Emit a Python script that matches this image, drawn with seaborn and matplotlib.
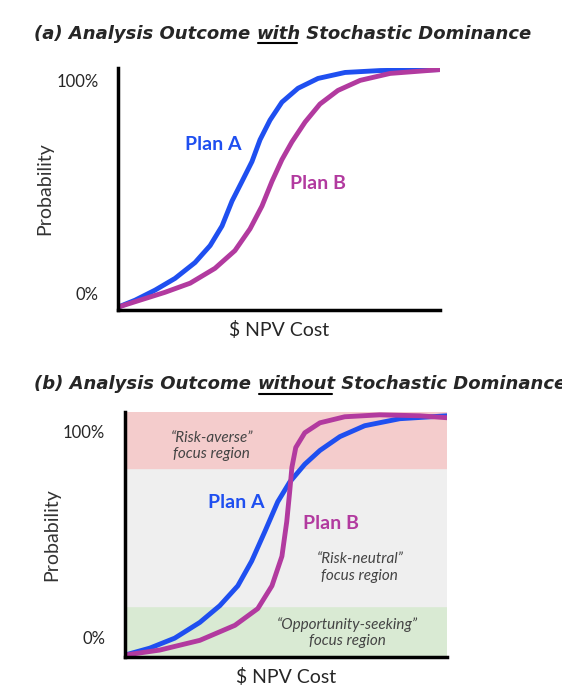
import pandas as pd
import matplotlib.pyplot as plt
import seaborn as sns
from matplotlib.lines import Line2D

# panel (a) curves, x and y in % of axis
a_plan_a_x = [0, 5.3, 11.5, 17.7, 23.9, 28.6, 32.3, 35.4, 38.5, 41.6, 44.1, 47.2, 50.9, 55.9, 62.1, 70.5, 81.4, 100]
a_plan_a_y = [1.2, 4.1, 8.3, 13.2, 19.8, 26.9, 35.1, 45.5, 53.7, 62, 71.1, 79.3, 86.8, 92.6, 96.7, 99.2, 100, 100.4]
a_plan_b_x = [0, 6.8, 14.6, 22.4, 30.1, 36.3, 41, 44.7, 47.8, 50.9, 54, 58.1, 62.7, 68.3, 75.2, 84.5, 100]
a_plan_b_y = [1.2, 4.1, 7.4, 11.2, 17.4, 24.8, 33.9, 43.4, 53.7, 62.8, 70.2, 78.5, 86, 91.7, 95.9, 98.8, 100.4]

# panel (b) curves
b_plan_a_x = [0, 7.8, 15.5, 23.3, 29.5, 35.1, 39.4, 43.5, 47.5, 51.2, 55.9, 60.6, 66.8, 74.5, 85.4, 100]
b_plan_a_y = [0.8, 3.7, 7.8, 14.3, 21.2, 29.4, 39.6, 51.8, 64.1, 72.2, 79.6, 85.3, 91, 95.5, 98.4, 99.6]
b_plan_b_x = [0, 10.9, 23.3, 34.2, 41.3, 45.7, 48.8, 50.3, 51.2, 51.9, 53.1, 55.9, 60.6, 68.3, 79.2, 91.6, 100]
b_plan_b_y = [0.8, 2.9, 6.9, 13.1, 20, 29.4, 41.6, 55.9, 68.1, 78.3, 86.5, 92.6, 96.7, 99.2, 100, 99.6, 98.8]

tick_labels = ["0%", "100%"]
blue = "#1f4ff0"
purple = "#b23a9f"

sns.set_style("white")
plt.rcParams["font.family"] = ["Lato", "DejaVu Sans"]

fig = plt.figure(figsize=(5.62, 6.99), dpi=100)
ax1 = fig.add_axes([0.21, 0.5565, 0.573, 0.346])
ax2 = fig.add_axes([0.222, 0.06, 0.573, 0.35])


def draw(ax, ax_x, ax_y, bx, by, ticks):
    df = pd.concat([
        pd.DataFrame({"x": ax_x, "y": ax_y, "plan": "Plan A"}),
        pd.DataFrame({"x": bx, "y": by, "plan": "Plan B"}),
    ])
    sns.lineplot(data=df, x="x", y="y", hue="plan", palette=[blue, purple],
                 linewidth=3.5, legend=False, ax=ax, zorder=3)
    ax.set_xlim(0, 100)
    ax.set_ylim(0, 101)
    ax.set_xticks([])
    ax.set_yticks(ticks)
    ax.set_yticklabels(tick_labels, fontsize=12)
    ax.tick_params(axis="y", length=0, pad=14)
    for s in ["top", "right"]:
        ax.spines[s].set_visible(False)
    for s in ["left", "bottom"]:
        ax.spines[s].set_linewidth(2.5)
        ax.spines[s].set_color("black")
        ax.spines[s].set_zorder(4)
    ax.set_xlabel("$ NPV Cost", fontsize=14, labelpad=8)
    ax.set_ylabel("Probability", fontsize=14, color="#333333", labelpad=2)


def title(y, parts):
    # parts: (text, underlined)
    renderer = fig.canvas.get_renderer()
    x = 0.06
    for s, under in parts:
        t = fig.text(x, y, s, fontsize=13, fontweight="bold", style="italic",
                     va="baseline", family="DejaVu Sans")
        bb = t.get_window_extent(renderer).transformed(fig.transFigure.inverted())
        if under:
            fig.add_artist(Line2D([bb.x0 + 0.004, bb.x1 - 0.006], [y - 0.006, y - 0.006],
                                  color="black", lw=1.5, transform=fig.transFigure))
        x = bb.x1


draw(ax1, a_plan_a_x, a_plan_a_y, a_plan_b_x, a_plan_b_y, [7, 96])
ax1.text(29.5, 69, "Plan A", color=blue, fontsize=14, fontweight="bold", ha="center", va="center")
ax1.text(62, 53, "Plan B", color=purple, fontsize=14, fontweight="bold", ha="center", va="center")
title(0.944, [("(a) Analysis Outcome ", False), ("with", True), (" Stochastic Dominance", False)])

# focus bands
ax2.axhspan(0, 21, color="#d9ead3", zorder=0)
ax2.axhspan(21, 78, color="#efefef", zorder=0)
ax2.axhspan(78, 101, color="#f4cccc", zorder=0)
draw(ax2, b_plan_a_x, b_plan_a_y, b_plan_b_x, b_plan_b_y, [8, 93])
ax2.text(34.5, 64, "Plan A", color=blue, fontsize=14, fontweight="bold", ha="center", va="center")
ax2.text(64, 55, "Plan B", color=purple, fontsize=14, fontweight="bold", ha="center", va="center")
ax2.text(27, 87, "\u201cRisk-averse\u201d\nfocus region", fontsize=11, style="italic",
         color="#444444", ha="center", va="center")
ax2.text(73, 37, "\u201cRisk-neutral\u201d\nfocus region", fontsize=11, style="italic",
         color="#444444", ha="center", va="center")
ax2.text(69, 10, "\u201cOpportunity-seeking\u201d\nfocus region", fontsize=11, style="italic",
         color="#444444", ha="center", va="center")
title(0.443, [("(b) Analysis Outcome ", False), ("without", True), (" Stochastic Dominance", False)])

fig.savefig("out.png", dpi=100)
